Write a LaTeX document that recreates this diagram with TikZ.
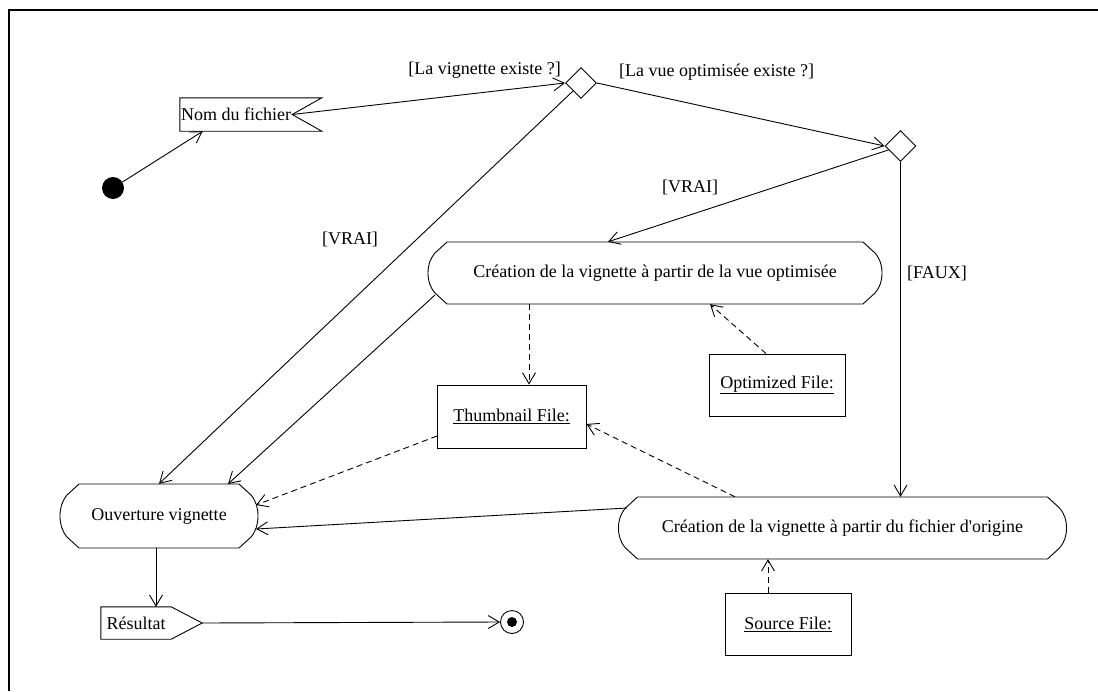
\documentclass[tikz,border=0pt]{standalone}
\usepackage{fontspec}
\setmainfont{Liberation Serif}
\usetikzlibrary{shapes.geometric,arrows.meta,calc}
\newcommand\actshape[3]{%
  \draw[line width=0.9pt, shift={(#1.center)}] ({-#2},{-#3}) -- ({#2},{-#3}) -- ({#2+12},{-#3+11}) .. controls ({#2+17},{-#3+17}) and ({#2+19},-8) .. ({#2+19},0) .. controls ({#2+19},8) and ({#2+17},{#3-17}) .. ({#2+12},{#3-11}) -- ({#2},{#3}) -- ({-#2},{#3}) -- ({-#2-12},{#3-11}) .. controls ({-#2-17},{#3-17}) and ({-#2-19},8) .. ({-#2-19},0) .. controls ({-#2-19},-8) and ({-#2-17},{-#3+17}) .. ({-#2-12},{-#3+11}) -- cycle;}
\begin{document}
\begin{tikzpicture}[x=1pt,y=-1pt, font=\fontsize{18}{21}\selectfont,
 arr/.style={-{Straight Barb[length=11pt,width=13pt]}, line width=0.9pt},
 dep/.style={arr, dash pattern=on 6pt off 4pt},
 act/.style={inner sep=0, minimum height=62pt},
 obj/.style={draw, line width=0.9pt, inner sep=0, minimum height=62pt},
 dec/.style={diamond, draw, line width=0.9pt, minimum size=31pt, inner sep=0, aspect=1},
 guard/.style={inner sep=0},
 sig/.style={inner sep=0, minimum height=32pt},
]
\useasboundingbox (0,0) rectangle (1098,691);
\fill[white] (0,0) rectangle (1098,691);
\draw[line width=2pt] (8.5,691) -- (8.5,10) -- (1098,10);

% activities
\node[act, minimum width=454pt] (copt) at (655,273) {Création de la vignette à partir de la vue optimisée};
\actshape{copt}{208}{31}
\node[act, minimum width=448pt] (cfo) at (842.5,528) {Création de la vignette à partir du fichier d\textquotesingle origine};
\actshape{cfo}{205}{31}
\node[act, minimum width=198pt, minimum height=64pt] (ouv) at (159,516) {Ouverture vignette};
\actshape{ouv}{80}{32}

% objects
\node[obj, minimum width=149pt, minimum height=63pt] (thumb) at (511.5,416.5) {\underline{Thumbnail File:}};
\node[obj, minimum width=136pt] (optf) at (777,385) {\underline{Optimized File:}};
\node[obj, minimum width=126pt] (src) at (788,624) {\underline{Source File:}};

% decisions
\node[dec] (d1) at (581,83) {};
\node[dec] (d2) at (900.5,146) {};

% initial / final
\node[circle, fill, minimum size=22pt, inner sep=0] (init) at (113,188) {};
\node[circle, draw, line width=0.9pt, minimum size=23pt, inner sep=0] (fin) at (512,622) {};
\node[circle, fill, minimum size=10pt, inner sep=0] (finc) at (fin) {};

% signals
\node[sig, minimum width=112pt, minimum height=33pt] (nom) at (236,114.5) {Nom du fichier};
\draw[line width=0.9pt] (nom.north west) -- ($(nom.north west)+(142,0)$) -- (nom.east) -- ($(nom.south west)+(142,0)$) -- (nom.south west) -- cycle;
\node[sig, minimum width=70pt] (res) at (136,623) {Résultat};
\draw[line width=0.9pt] (res.north west) -- (res.north east) -- ($(res.east)+(31,0)$) -- (res.south east) -- (res.south west) -- cycle;

% guards
\node[guard, anchor=east] (g1) at (561,70) {[La vignette existe ?]};
\node[guard, anchor=west] (g2) at (619,72) {[La vue optimisée existe ?]};
\node[guard] (g3) at (350,239) {[VRAI]};
\node[guard] (g4) at (690,187) {[VRAI]};
\node[guard, anchor=west] (g5) at (907,273) {[FAUX]};

% control flows
\draw[arr] (init) -- ($(nom.south west)+(23,0)$);
\draw[arr] (nom.east) -- (d1.west);
\draw[arr] (d1.east) -- (d2.west);
\draw[arr] (d1.south west) -- (ouv.north);
\draw[arr] ($(copt.center)+(-220,22)$) -- ($(ouv.center)+(69,-32)$);
\draw[arr] (d2) -- ($(copt.north)+(-47,0)$);
\draw[arr] (d2.south) -- (d2.south |- cfo.north);
\draw[arr] ($(cfo.center)+(-215.5,-20)$) -- ($(ouv.center)+(97,13)$);
\draw[arr] ($(ouv.south)+(-3,0)$) -- ($(res.north)+(20,0)$);
\draw[arr] ($(res.east)+(31,0)$) -- (fin.west);

% object flows
\draw[dep] ($(copt.south)+(-126,0)$) -- ($(thumb.north)+(17.5,0)$);
\draw[dep] ($(optf.north)+(-11,0)$) -- ($(copt.south)+(55,0)$);
\draw[dep] ($(thumb.center)+(-74.5,19.5)$) -- ($(ouv.center)+(97,-11)$);
\draw[dep] ($(cfo.north)+(-107.5,0)$) -- ($(thumb.east)+(0,7.5)$);
\draw[dep] ($(src.north)+(-20,0)$) -- ($(cfo.south)+(-74.5,0)$);
\end{tikzpicture}
\end{document}
